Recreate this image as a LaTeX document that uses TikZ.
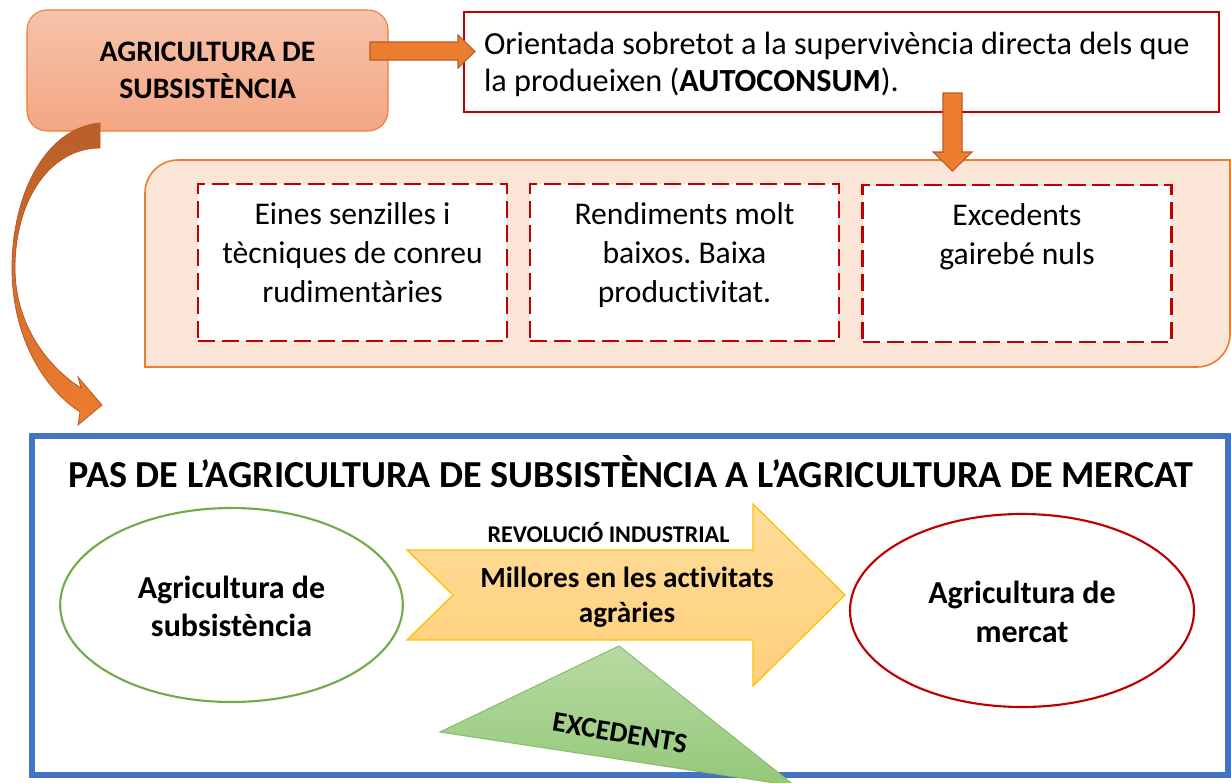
\documentclass[tikz,border=0pt]{standalone}
\usepackage{fontspec}
\setmainfont{Carlito}[Ligatures=NoCommon]
\usetikzlibrary{shapes.geometric}
\frenchspacing
\definecolor{orangeA}{HTML}{ED7D31}
\definecolor{orangeD}{HTML}{B85A22}
\definecolor{darkred}{HTML}{C00000}
\definecolor{peach}{HTML}{FBE5D6}
\definecolor{salmonT}{HTML}{F6C3AB}
\definecolor{salmonB}{HTML}{F4A683}
\definecolor{blueF}{HTML}{4472C4}
\definecolor{greenE}{HTML}{70AD47}
\definecolor{goldB}{HTML}{FFC000}
\definecolor{yelT}{HTML}{FFDC9C}
\definecolor{yelB}{HTML}{FFD07A}
\definecolor{grnT}{HTML}{B8DAA3}
\definecolor{grnB}{HTML}{94C879}
\definecolor{brownT}{HTML}{B85E2A}
\begin{document}
\begin{tikzpicture}[x=0.75pt,y=-0.75pt,
  every node/.style={inner sep=0pt,outer sep=0pt},
  dbox/.style={draw=darkred,dash pattern=on 13pt off 5pt,line width=1.6pt,fill=white,minimum width=231.75pt,minimum height=117.75pt},
  btxt/.style={font=\fontsize{23.7}{29.25}\selectfont,align=center,anchor=north},
  blockarrow/.style={fill=orangeA,draw=orangeD,line width=0.8pt,line join=miter},
  ell/.style={ellipse,line width=1.6pt,fill=white},
  etxt/.style={font=\bfseries\fontsize{24}{29}\selectfont,align=center}
]
\useasboundingbox (0,0) rectangle (1231,782);

% top-left box
\node[draw=orangeA,line width=0.8pt,rounded corners=15pt,top color=salmonT,bottom color=salmonB,
  minimum width=270.75pt,minimum height=90.75pt,align=center,
  font=\bfseries\fontsize{22.3}{27.75}\selectfont] (A) at (207.5,70.5) {AGRICULTURA DE\\SUBSISTÈNCIA};

% top-right box
\node[draw=darkred,line width=1.5pt,fill=white,minimum width=566.25pt,minimum height=75pt] (B) at (841.5,62) {};
\node[anchor=west,align=left,font=\fontsize{24.2}{27.75}\selectfont] (Btxt) at (484,64.5)
  {Orientada sobretot a la supervivència directa dels que\\la produeixen (\textbf{AUTOCONSUM}).};

% small right arrow A -> B
\draw[blockarrow] (370,42) -- (458,42) -- (458,35) -- (475,51.5) -- (458,68) -- (458,60) -- (370,60) -- cycle;

% peach panel
\draw[fill=peach,draw=orangeA,line width=1.2pt] (145,367) -- (145,193) .. controls (145,174.8) and (159.8,160) .. (178,160)
  -- (1230,160) -- (1230,334) .. controls (1230,352.2) and (1215.2,367) .. (1197,367) -- cycle;
\coordinate (P) at (952,160);

% down arrow B -> panel
\draw[blockarrow] (943,93) -- (962,93) -- (962,152) -- (972,152) -- (952.5,171) -- (933,152) -- (943,152) -- cycle;

% dashed boxes
\node[dbox] (b1) at (352.5,262.5) {};
\node[dbox] (b2) at (684.5,262.5) {};
\node[dbox] (b3) at (1017,263.5) {};
\node[btxt] (t1) at ([yshift=-14pt]b1.north) {Eines senzilles i\\tècniques de conreu\\rudimentàries};
\node[btxt] (t2) at ([yshift=-14pt]b2.north) {Rendiments molt\\baixos. Baixa\\productivitat.};
\node[btxt] (t3) at ([yshift=-14pt]b3.north) {Excedents\\gairebé nuls};

% curved arrow
\draw[top color=brownT,bottom color=orangeA,draw=orangeD,line width=0.6pt,line join=miter]
  (100,123) .. controls (45,128) and (12,195) .. (12,268)
  .. controls (12,330) and (38,384) .. (80,412)
  -- (78,425) -- (102,405) -- (78,377) -- (81,388)
  .. controls (45,365) and (15,322) .. (15,268)
  .. controls (15,200) and (50,148) .. (100,148) -- cycle;

% big frame
\draw[draw=blueF,line width=4.5pt] (32,435.5) rectangle (1228,774.5);
\node[font=\bfseries\fontsize{28.6}{33}\selectfont] (title) at (631,472) {PAS DE L’AGRICULTURA DE SUBSISTÈNCIA A L’AGRICULTURA DE MERCAT};

% ellipses
\node[ell,draw=greenE,minimum width=257pt,minimum height=145.5pt] (E1) at (231.5,605) {};
\node[etxt] at ([yshift=-1pt]E1.center) {Agricultura de\\subsistència};
\node[ell,draw=darkred,minimum width=258pt,minimum height=144.75pt] (E2) at (1022,610.5) {};
\node[etxt] at ([yshift=-1pt]E2.center) {Agricultura de\\mercat};

% yellow arrow
\draw[draw=goldB,line width=1pt,top color=yelT,bottom color=yelB,line join=miter]
  (407,550) -- (753,550) -- (753,504) -- (845,595) -- (753,686) -- (753,640) -- (407,640) -- (453,595) -- cycle;
\node[font=\bfseries\fontsize{18}{21}\selectfont] (rev) at (608.5,533) {REVOLUCIÓ INDUSTRIAL};
\node[font=\bfseries\fontsize{21.9}{26.25}\selectfont,align=center] (mill) at (627,597) {Millores en les activitats\\agràries};

% green triangle
\draw[draw=greenE!80,line width=0.8pt,top color=grnT,bottom color=grnB,line join=miter]
  (619,646) -- (795,786) -- (440,732) -- cycle;
\node[font=\bfseries\fontsize{21.4}{24}\selectfont,rotate=-9.5] (exc) at (620,733) {EXCEDENTS};
\end{tikzpicture}
\end{document}
